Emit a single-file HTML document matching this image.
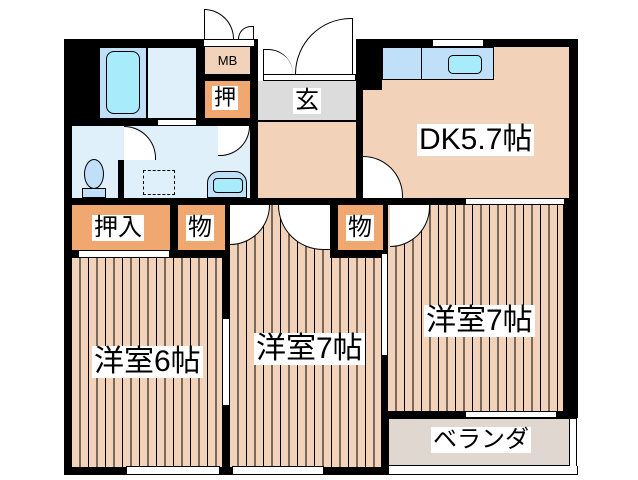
<!DOCTYPE html>
<html><head><meta charset="utf-8"><style>
body{margin:0;width:638px;height:480px;background:#fff;position:relative;overflow:hidden;font-family:"Liberation Sans","Noto Sans CJK JP",sans-serif}
div{position:absolute;box-sizing:border-box}
.b{background:#000}
.fl{background:repeating-linear-gradient(90deg,#f2d2b8 0 7.5px,#000 7.5px 8.5px)}
.pe{background:#f2d2b8}
.or{background:#f0a870}
.lb{background:#dff0fb}
.t{background:#fff;color:#000;line-height:1;white-space:nowrap;padding:1px 2px}
.win{background:#fff;border:1px solid #000}
.arcR{border:1px solid #000;border-left:none;border-bottom:none;background:#fff}
</style></head><body>
<!-- walls base -->
<div class="b" style="left:64px;top:39px;width:194px;height:436px"></div>
<div class="b" style="left:356px;top:39px;width:222px;height:436px"></div>
<div class="b" style="left:250px;top:121px;width:110px;height:354px"></div>
<!-- bath -->
<div style="left:99px;top:47px;width:48px;height:72px;background:#bfe0f8;border:1px solid #000"></div>
<div style="left:106px;top:51px;width:34px;height:63px;background:#a8ecfb;border:1px solid #000;border-radius:8px"></div>
<div class="lb" style="left:147px;top:47px;width:50px;height:72px;border:1px solid #000"></div>
<div class="win" style="left:157px;top:119px;width:40px;height:7px"></div>
<!-- MB / closet -->
<div class="pe" style="left:205px;top:47px;width:45px;height:27px;font-size:13px;text-align:center;line-height:27px">MB</div>
<div class="win" style="left:203px;top:39px;width:52px;height:8px"></div>
<div class="arcR" style="left:204px;top:9px;width:30px;height:30px;border-radius:0 30px 0 0;border-left:1px solid #000"></div>
<div class="arcR" style="left:238px;top:26px;width:16px;height:13px;border-radius:16px 0 0 0;border:1px solid #000;border-right:1px solid #000;border-bottom:none"></div>
<div class="or" style="left:205px;top:81px;width:45px;height:37px"></div>
<div class="t" style="left:212px;top:86px;font-size:22px">押</div>
<!-- entrance -->
<div style="left:258px;top:0;width:98px;height:74px;background:#fff"></div>
<div style="left:263px;top:49px;width:30px;height:25px;border:1px solid #000;border-bottom:none;border-right:none;border-radius:0 30px 0 0;border-top:1px solid #000"></div>
<div style="left:295px;top:18px;width:58px;height:56px;border:1px solid #000;border-bottom:none;border-left:none;border-radius:58px 0 0 0;border-left:1px solid #000"></div>
<div class="win" style="left:263px;top:74px;width:93px;height:7px"></div>
<div style="left:258px;top:81px;width:98px;height:40px;background:#dcdcdc;border-bottom:1px solid #000"></div>
<div class="t" style="left:293px;top:88px;font-size:24px;background:#fff">玄</div>
<div class="pe" style="left:258px;top:122px;width:98px;height:76px"></div>
<!-- washroom -->
<div class="lb" style="left:72px;top:126px;width:178px;height:72px"></div>
<div class="b" style="left:118px;top:160px;width:6px;height:38px"></div>
<div style="left:124px;top:126px;width:32px;height:34px;border:1px solid #000;border-radius:0 32px 0 0;background:#fff;border-left:none;border-bottom:none"></div>
<div style="left:84px;top:159px;width:20px;height:30px;border:1px solid #000;border-radius:50%;background:#bfe0f8"></div>
<div style="left:82px;top:188px;width:24px;height:10px;border:1px solid #000;background:#bfe0f8"></div>
<div style="left:143px;top:170px;width:32px;height:25px;border:1px dashed #000"></div>
<div style="left:207px;top:171px;width:40px;height:27px;border:1px solid #000;border-radius:12px 12px 0 0;background:#bfe0f8"></div>
<div style="left:213px;top:178px;width:30px;height:15px;border:1px solid #000;border-radius:4px;background:#a8ecfb"></div>
<div style="left:218px;top:126px;width:32px;height:30px;border:1px solid #000;background:#fff;border-radius:0 0 32px 0;border-left:none;border-top:none"></div>
<!-- DK -->
<div class="pe" style="left:363px;top:47px;width:206px;height:151px"></div>
<div class="b" style="left:356px;top:39px;width:26px;height:51px"></div>
<div style="left:382px;top:47px;width:112px;height:33px;background:#bfe0f8;border:1px solid #000"></div>
<div style="left:421px;top:47px;width:1px;height:33px;background:#000"></div>
<div style="left:448px;top:55px;width:34px;height:19px;background:#a8ecfb;border:1px solid #000;border-radius:5px"></div>
<div class="win" style="left:432px;top:39px;width:52px;height:8px"></div>
<div style="left:363px;top:156px;width:40px;height:42px;background:#fff;border:1px solid #000;border-radius:0 42px 0 0;border-left:none;border-bottom:none"></div>
<div class="t" style="left:417px;top:124px;font-size:30px">DK5.7帖</div>
<!-- bedrooms -->
<div class="fl" style="left:72px;top:258px;width:150px;height:209px"></div>
<div class="fl" style="left:230px;top:205px;width:151px;height:262px"></div>
<div class="fl" style="left:388px;top:205px;width:175px;height:206px"></div>
<!-- row closets -->
<div class="or" style="left:72px;top:205px;width:98px;height:45px"></div>
<div class="t" style="left:92px;top:215px;font-size:24px">押入</div>
<div class="or" style="left:178px;top:205px;width:47px;height:45px"></div>
<div class="t" style="left:186px;top:215px;font-size:24px">物</div>
<div class="b" style="left:330px;top:205px;width:58px;height:53px"></div>
<div class="or" style="left:338px;top:205px;width:45px;height:45px"></div>
<div class="t" style="left:346px;top:215px;font-size:24px">物</div>
<div class="win" style="left:78px;top:250px;width:92px;height:8px"></div>
<div style="left:230px;top:205px;width:40px;height:40px;background:#fff;border:1px solid #000;border-radius:0 0 40px 0;border-left:none;border-top:none"></div>
<div style="left:278px;top:205px;width:52px;height:45px;background:#fff;border:1px solid #000;border-radius:0 0 0 45px;border-right:none;border-top:none"></div>
<div style="left:390px;top:205px;width:40px;height:42px;background:#fff;border:1px solid #000;border-radius:0 0 40px 0;border-left:none;border-top:none"></div>
<div class="win" style="left:222px;top:318px;width:8px;height:88px"></div>
<div class="win" style="left:381px;top:253px;width:7px;height:103px"></div>
<div class="win" style="left:126px;top:466px;width:94px;height:9px"></div>
<div class="win" style="left:232px;top:466px;width:92px;height:9px"></div>
<div class="win" style="left:465px;top:198px;width:100px;height:7px"></div>
<div class="win" style="left:465px;top:411px;width:92px;height:7px"></div>
<div class="t" style="left:92px;top:346px;font-size:30px">洋室6帖</div>
<div class="t" style="left:254px;top:333px;font-size:30px">洋室7帖</div>
<div class="t" style="left:424px;top:305px;font-size:30px">洋室7帖</div>
<!-- veranda -->
<div style="left:388px;top:418px;width:190px;height:62px;background:#fff"></div>
<div style="left:388px;top:418px;width:182px;height:48px;background:#e0d8d0;border:1px solid #000"></div>
<div style="left:569px;top:418px;width:8px;height:57px;border:1px solid #000;background:#fff"></div>
<div style="left:388px;top:466px;width:190px;height:9px;border:1px solid #000;border-top:none;background:#fff"></div>
<div class="t" style="left:431px;top:427px;font-size:24px">ベランダ</div>
</body></html>
